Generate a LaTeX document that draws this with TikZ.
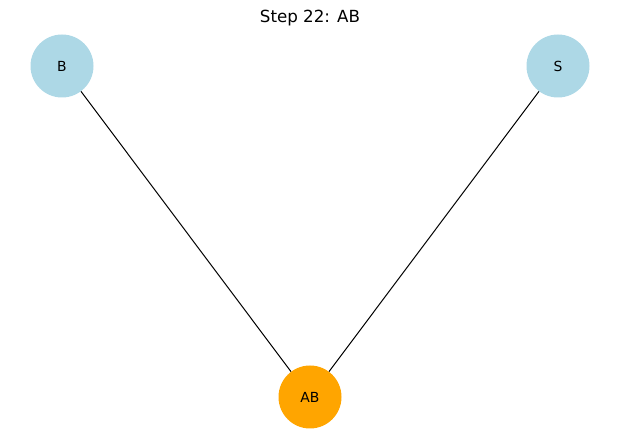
\documentclass[tikz,border=0pt]{standalone}
\usepackage{fontspec}
\setmainfont{DejaVu Sans}
\definecolor{lblue}{HTML}{ADD8E6}
\definecolor{orng}{HTML}{FFA500}
\begin{document}
\begin{tikzpicture}[x=1pt,y=1pt,
  vtx/.style={circle,minimum size=63pt,inner sep=0pt,font=\fontsize{13.9}{16}\selectfont},
  edge/.style={draw=black,line width=1pt}]
\useasboundingbox (0,0) rectangle (619,442);
\node[vtx,fill=lblue] (B) at (62,376) {B};
\node[vtx,fill=lblue] (S) at (558,376) {S};
\node[vtx,fill=orng] (AB) at (310,45) {AB};
\draw[edge] (B) -- (AB);
\draw[edge] (S) -- (AB);
\node[font=\fontsize{16.7}{20}\selectfont] (title) at (310,424) {Step 22: AB};
\end{tikzpicture}
\end{document}
